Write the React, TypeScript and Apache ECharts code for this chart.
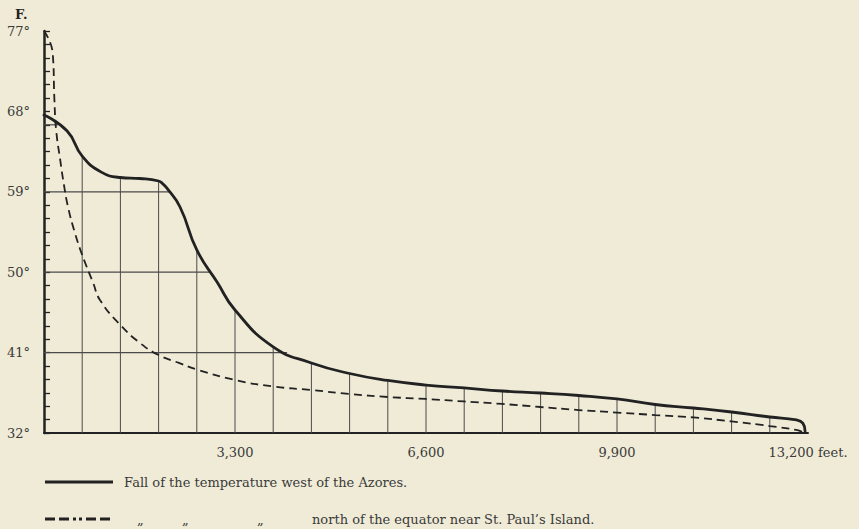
import React, { useEffect, useRef } from 'react';
import * as echarts from 'echarts';

const solidFeet = [0, 400, 660, 990, 1320, 1660, 1980, 2050, 2120, 2350, 2640, 2990, 3300, 3960, 4620, 5280, 5940, 6600, 7260, 7920, 8580, 9240, 9900, 10560, 11220, 11880, 12540, 13000, 13110, 13150];
const solidTemp = [67.6, 65.8, 63.0, 61.2, 60.6, 60.49, 60.21, 59.9, 59.43, 57.3, 52.49, 48.9, 45.77, 41.63, 39.84, 38.66, 37.88, 37.37, 37.04, 36.7, 36.48, 36.2, 35.81, 35.19, 34.8, 34.35, 33.79, 33.46, 33.1, 32.2];

const dashedFeet = [0, 150, 180, 210, 280, 345, 415, 535, 660, 850, 967, 1320, 1660, 1980, 2330, 2640, 3300, 3960, 4620, 5280, 5940, 6600, 7260, 7920, 8580, 9240, 9900, 10560, 11220, 11880, 12540, 13000, 13100];
const dashedTemp = [77, 74.54, 69.28, 65.92, 62.56, 59.76, 57.3, 54.39, 51.93, 48.79, 46.89, 44.09, 42.07, 40.73, 39.84, 39.11, 37.93, 37.21, 36.81, 36.37, 36.03, 35.81, 35.53, 35.25, 34.91, 34.57, 34.29, 34.01, 33.74, 33.29, 32.78, 32.34, 32.11];

// Hatching under the solid curve
const hatchFeet = [660, 1320, 1980, 2640, 3300, 3960, 4620, 5280, 5940, 6600, 7260, 7920, 8580, 9240, 9900, 10560, 11220, 11880, 12540];
const hatchLevels = [41, 50, 59, 66.5];
const hatchLevelEnds = [4200, 2870, 2170, 240];

const yTickLabels = ['32°', '41°', '50°', '59°', '68°', '77°'];
const Y_MIN = 32;
const Y_MAX = 77;
const Y_STEP = 9;
const X_MIN = 0;
const X_MAX = 13200;
const X_STEP = 3300;

const legendSolid = 'Fall of the temperature west of the Azores.';
const legendDashed = 'north of the equator near St. Paul\u2019s Island.';

const FONT = '"DejaVu Serif", "Liberation Serif", serif';
const INK = '#222';
const TEXT = '#3a3a3a';

export default function App() {
  const ref = useRef<HTMLDivElement>(null);

  useEffect(() => {
    if (!ref.current) return;
    const chart = echarts.init(ref.current, null, { renderer: 'svg' });

    const solid = solidFeet.map((f, i) => [f, solidTemp[i]]);
    const dashed = dashedFeet.map((f, i) => [f, dashedTemp[i]]);
    const vHatch = hatchFeet.map((f) => [f, solidTemp[solidFeet.indexOf(f)]]);
    const hHatch = hatchLevels.map((lv, i) => [hatchLevelEnds[i], lv]);

    const option: any = {
      animation: false,
      backgroundColor: '#efebd7',
      grid: { left: 44, right: 51, top: 31, bottom: 96 },
      xAxis: {
        type: 'value',
        min: X_MIN,
        max: X_MAX,
        interval: X_STEP,
        axisLine: { show: true, lineStyle: { color: INK, width: 2 } },
        axisTick: { show: false },
        splitLine: { show: false },
        axisLabel: {
          showMinLabel: false,
          margin: 13,
          color: TEXT,
          fontFamily: FONT,
          fontSize: 13,
          formatter: (v: number) =>
            v === X_MIN ? '' : v === X_MAX ? v.toLocaleString('en-US') + ' feet.' : v.toLocaleString('en-US'),
        },
      },
      yAxis: {
        type: 'value',
        min: Y_MIN,
        max: Y_MAX,
        interval: Y_STEP,
        axisLine: { show: true, lineStyle: { color: INK, width: 2.5 } },
        axisTick: { show: true, inside: true, length: 6, lineStyle: { color: INK, width: 1.3 } },
        minorTick: { show: true, splitNumber: 6, length: 6, lineStyle: { color: INK, width: 1.3 } },
        splitLine: { show: false },
        axisLabel: {
          margin: 14,
          color: TEXT,
          fontFamily: FONT,
          fontSize: 13,
          formatter: (v: number) => yTickLabels[Math.round((v - Y_MIN) / Y_STEP)] ?? '',
        },
      },
      series: [
        {
          type: 'custom',
          silent: true,
          z: 1,
          data: vHatch,
          renderItem: (_p: any, api: any) => {
            const x = api.value(0);
            const top = api.value(1);
            const a = api.coord([x, Y_MIN]);
            const b = api.coord([x, top]);
            return {
              type: 'line',
              shape: { x1: a[0], y1: a[1], x2: b[0], y2: b[1] },
              style: { stroke: '#4a4a4a', lineWidth: 1 },
            };
          },
        },
        {
          type: 'custom',
          silent: true,
          z: 1,
          data: hHatch,
          renderItem: (_p: any, api: any) => {
            const end = api.value(0);
            const lv = api.value(1);
            const a = api.coord([X_MIN, lv]);
            const b = api.coord([end, lv]);
            return {
              type: 'line',
              shape: { x1: a[0], y1: a[1], x2: b[0], y2: b[1] },
              style: { stroke: '#4a4a4a', lineWidth: 1.2 },
            };
          },
        },
        {
          type: 'line',
          name: 'Azores',
          data: solid,
          smooth: 0.5,
          symbol: 'none',
          z: 3,
          lineStyle: { color: INK, width: 2.8, cap: 'round' },
        },
        {
          type: 'line',
          name: "St. Paul's",
          data: dashed,
          smooth: 0.5,
          symbol: 'none',
          z: 2,
          lineStyle: { color: INK, width: 1.8, type: [8, 5] },
        },
      ],
      graphic: [
        {
          type: 'text',
          x: 15,
          y: 14,
          style: { text: 'F.', fontFamily: FONT, fontSize: 13, fontWeight: 'bold', fill: INK, verticalAlign: 'middle' },
        },
        {
          type: 'line',
          shape: { x1: 45, y1: 482, x2: 113, y2: 482 },
          style: { stroke: INK, lineWidth: 3 },
        },
        {
          type: 'text',
          x: 124,
          y: 482,
          style: { text: legendSolid, fontFamily: FONT, fontSize: 13, fill: TEXT, verticalAlign: 'middle' },
        },
        {
          type: 'line',
          shape: { x1: 45, y1: 519, x2: 118, y2: 519 },
          style: { stroke: INK, lineWidth: 3, lineDash: [10, 4, 10, 4, 3, 3, 3, 4, 10, 4, 10, 8] },
        },
        {
          type: 'text', x: 137, y: 519,
          style: { text: '\u201E', fontFamily: FONT, fontSize: 13, fill: TEXT, verticalAlign: 'middle' },
        },
        {
          type: 'text', x: 182, y: 519,
          style: { text: '\u201E', fontFamily: FONT, fontSize: 13, fill: TEXT, verticalAlign: 'middle' },
        },
        {
          type: 'text', x: 257, y: 519,
          style: { text: '\u201E', fontFamily: FONT, fontSize: 13, fill: TEXT, verticalAlign: 'middle' },
        },
        {
          type: 'text',
          x: 312,
          y: 519,
          style: { text: legendDashed, fontFamily: FONT, fontSize: 13, fill: TEXT, verticalAlign: 'middle' },
        },
      ],
    };

    chart.setOption(option);
    return () => chart.dispose();
  }, []);

  return <div ref={ref} style={{ position: 'fixed', left: 0, top: 0, width: 859, height: 529 }} />;
}
